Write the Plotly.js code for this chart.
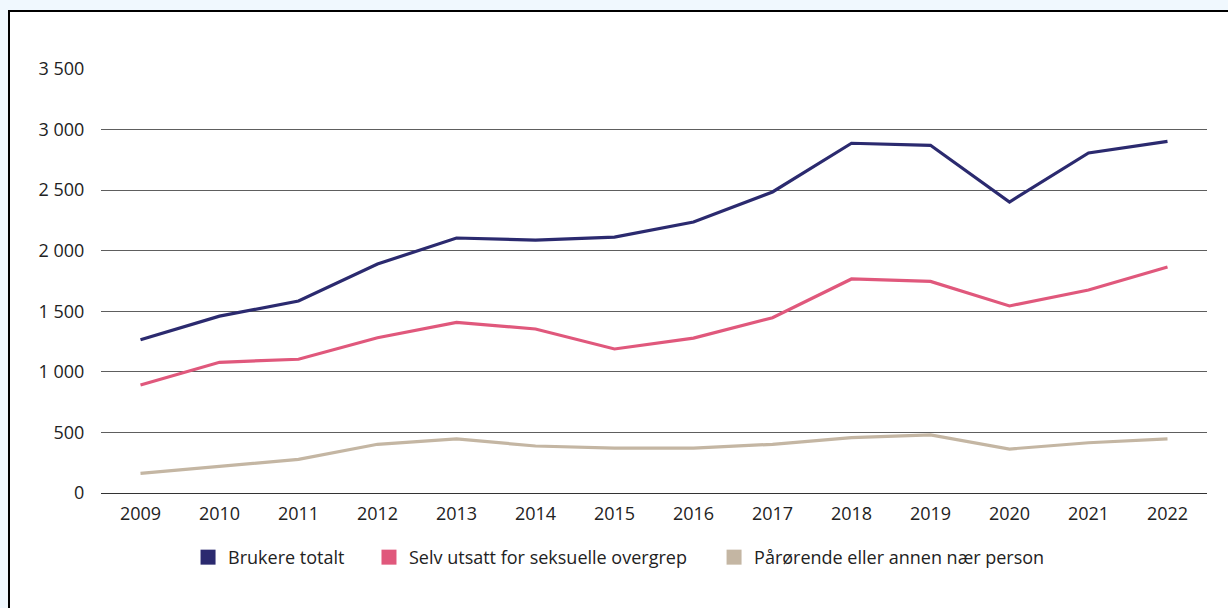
<!DOCTYPE html>
<html>
<head>
<meta charset="utf-8">
<script src="https://cdn.plot.ly/plotly-3.0.1.min.js"></script>
<style>
  html, body { margin: 0; padding: 0; width: 1228px; height: 608px; overflow: hidden; background: #f0f8fe; }
  #frame { position: absolute; left: 8px; top: 10px; width: 1240px; height: 620px; background: #ffffff; border: 2px solid #000; box-sizing: border-box; }
  #chart { position: absolute; left: 0; top: 0; width: 1228px; height: 608px; }
</style>
</head>
<body>
<div id="frame"></div>
<div id="chart"></div>
<script>
const years = [2009, 2010, 2011, 2012, 2013, 2014, 2015, 2016, 2017, 2018, 2019, 2020, 2021, 2022];
const brukereTotalt = [1265, 1460, 1585, 1890, 2105, 2088, 2112, 2237, 2485, 2887, 2870, 2402, 2807, 2903];
const selvUtsatt = [892, 1079, 1104, 1282, 1409, 1354, 1189, 1279, 1447, 1767, 1747, 1544, 1676, 1866];
const parorende = [162, 223, 278, 402, 446, 388, 371, 371, 402, 457, 479, 363, 415, 446];
const seriesNames = ["Brukere totalt", "Selv utsatt for seksuelle overgrep", "Pårørende eller annen nær person"];
const seriesColors = ["#2b2a6f", "#e0587c", "#c4b6a3"];
const seriesValues = [brukereTotalt, selvUtsatt, parorende];
const legendIds = ["legend", "legend2", "legend3"];

const traces = [];
seriesValues.forEach((vals, i) => {
  traces.push({
    x: years, y: vals, type: "scatter", mode: "lines",
    line: { color: seriesColors[i], width: 3.2 },
    showlegend: false, hoverinfo: "x+y"
  });
});
seriesValues.forEach((vals, i) => {
  traces.push({
    x: [null], y: [null], type: "scatter", mode: "markers",
    name: seriesNames[i], legend: legendIds[i],
    marker: { symbol: "square", size: 15, color: seriesColors[i] },
    showlegend: true
  });
});

const legendBase = {
  orientation: "h", xanchor: "left", y: -0.152, yanchor: "middle",
  font: { size: 18, color: "#222" }, itemwidth: 30,
  bgcolor: "rgba(0,0,0,0)", borderwidth: 0
};

const layout = {
  width: 1228, height: 608,
  paper_bgcolor: "rgba(0,0,0,0)", plot_bgcolor: "rgba(0,0,0,0)",
  margin: { l: 101, r: 21, t: 69, b: 115 },
  separators: ", ",
  font: { family: "Open Sans, Noto Sans, sans-serif", color: "#222", size: 18 },
  xaxis: {
    range: [2008.5, 2022.5], dtick: 1, tick0: 2009, tickformat: "d",
    showgrid: false, zeroline: false, showline: false,
    ticks: "outside", ticklen: 4, tickcolor: "rgba(0,0,0,0)",
    tickfont: { size: 18, color: "#222" }, fixedrange: true
  },
  yaxis: {
    range: [0, 3500], dtick: 500, tickformat: ",",
    showgrid: true, gridcolor: "#5e5e5e", gridwidth: 1,
    zeroline: true, zerolinecolor: "#333", zerolinewidth: 1,
    showline: false,
    ticks: "outside", ticklen: 12, tickcolor: "rgba(0,0,0,0)",
    tickfont: { size: 18, color: "#222" }, fixedrange: true
  },
  legend: Object.assign({}, legendBase, { x: 0.0787 }),
  legend2: Object.assign({}, legendBase, { x: 0.2423 }),
  legend3: Object.assign({}, legendBase, { x: 0.5543 }),
  showlegend: true
};

Plotly.newPlot("chart", traces, layout, { displayModeBar: false, staticPlot: true });
</script>
</body>
</html>
